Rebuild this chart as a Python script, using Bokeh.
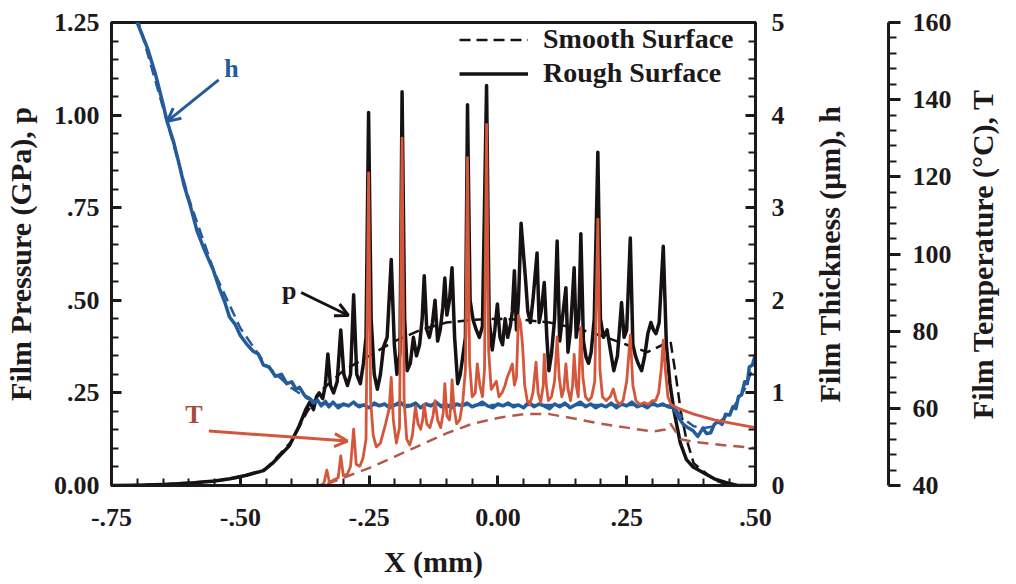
import numpy as np
from bokeh.plotting import figure
from bokeh.layouts import row
from bokeh.models import (Range1d, LinearAxis, FixedTicker, Legend, LegendItem,
                          Arrow, OpenHead, Label)
from bokeh.core.validation import silence
from bokeh.core.validation.warnings import MISSING_RENDERERS
from bokeh.embed import file_html
from bokeh.resources import INLINE

silence(MISSING_RENDERERS, True)

# ---------------- data ----------------
X_TICKS = [-0.75, -0.5, -0.25, 0.0, 0.25, 0.5]
X_TICK_LABELS = ["-.75", "-.50", "-.25", "0.00", ".25", ".50"]
P_TICKS = [0.0, 0.25, 0.5, 0.75, 1.0, 1.25]
P_TICK_LABELS = ["0.00", ".25", ".50", ".75", "1.00", "1.25"]
H_TICKS = [0, 1, 2, 3, 4, 5]
T_TICKS = [40, 60, 80, 100, 120, 140, 160]

LEGEND_LABELS = ["Smooth Surface", "Rough Surface"]

# film pressure, rough surface (GPa)
P_ROUGH_X = [-0.75, -0.70, -0.65, -0.60, -0.55, -0.52, -0.49, -0.455, -0.436, -0.405,
             -0.386, -0.373, -0.365, -0.358, -0.352, -0.347, -0.340, -0.335, -0.330, -0.325, -0.319,
             -0.312, -0.305, -0.299, -0.292, -0.286, -0.280, -0.274, -0.267, -0.261, -0.256,
             -0.251, -0.246, -0.240, -0.234, -0.228, -0.222, -0.215, -0.207, -0.201, -0.196,
             -0.190, -0.186, -0.181, -0.176, -0.170, -0.164, -0.158, -0.152, -0.147, -0.143,
             -0.138, -0.133, -0.127, -0.122, -0.117, -0.112, -0.107, -0.103, -0.099, -0.094,
             -0.089, -0.084, -0.078, -0.073, -0.068, -0.063, -0.059, -0.054, -0.048, -0.042,
             -0.036, -0.030, -0.022, -0.017, -0.011, -0.006, -0.001, 0.004, 0.009, 0.014,
             0.019, 0.024, 0.028, 0.032, 0.036, 0.040, 0.045, 0.050, 0.054, 0.058,
             0.063, 0.068, 0.076, 0.080, 0.084, 0.090, 0.095, 0.099, 0.104, 0.110,
             0.115, 0.120, 0.125, 0.132, 0.136, 0.141, 0.148, 0.152, 0.157, 0.161,
             0.166, 0.171, 0.176, 0.181, 0.187, 0.194, 0.199, 0.205, 0.212, 0.219,
             0.225, 0.232, 0.240, 0.245, 0.250, 0.257, 0.262, 0.267, 0.272, 0.279,
             0.285, 0.291, 0.297, 0.302, 0.307, 0.313, 0.321, 0.327, 0.334, 0.342,
             0.354, 0.366, 0.379, 0.398, 0.420, 0.442, 0.465, 0.50]
P_ROUGH = [0.0, 0.001, 0.003, 0.006, 0.012, 0.018, 0.027, 0.04, 0.062, 0.107,
           0.16, 0.205, 0.225, 0.205, 0.24, 0.25, 0.235, 0.27, 0.355, 0.27, 0.25,
           0.28, 0.42, 0.30, 0.27, 0.30, 0.515, 0.30, 0.275, 0.33, 0.40,
           1.007, 0.45, 0.30, 0.26, 0.30, 0.374, 0.40, 0.61, 0.38, 0.30,
           0.36, 1.063, 0.45, 0.31, 0.33, 0.40, 0.35, 0.38, 0.45, 0.566,
           0.42, 0.40, 0.44, 0.50, 0.39, 0.42, 0.48, 0.56, 0.46, 0.50,
           0.588, 0.40, 0.275, 0.30, 0.35, 0.40, 1.028, 0.50, 0.446, 0.42,
           0.40, 0.43, 1.08, 0.45, 0.366, 0.42, 0.49, 0.40, 0.38, 0.45,
           0.40, 0.43, 0.47, 0.58, 0.42, 0.50, 0.708, 0.62, 0.55, 0.47,
           0.44, 0.50, 0.628, 0.44, 0.47, 0.548, 0.40, 0.31, 0.355, 0.45,
           0.66, 0.39, 0.45, 0.534, 0.36, 0.42, 0.588, 0.40, 0.45, 0.68,
           0.39, 0.347, 0.33, 0.36, 0.45, 0.90, 0.45, 0.40, 0.42, 0.36,
           0.31, 0.35, 0.494, 0.40, 0.42, 0.668, 0.38, 0.35, 0.33, 0.31,
           0.35, 0.41, 0.44, 0.42, 0.41, 0.44, 0.646, 0.38, 0.275, 0.20,
           0.115, 0.07, 0.05, 0.035, 0.018, 0.008, 0.0, 0.0]

# film pressure, smooth surface (GPa)
P_SMOOTH_X = [-0.75, -0.65, -0.55, -0.50, -0.45, -0.40, -0.37, -0.34, -0.30, -0.25,
              -0.20, -0.15, -0.10, -0.05, 0.0, 0.05, 0.10, 0.15, 0.20, 0.25,
              0.29, 0.32, 0.335, 0.345, 0.355, 0.365, 0.38, 0.42, 0.45, 0.50]
P_SMOOTH = [0.0, 0.003, 0.012, 0.022, 0.045, 0.12, 0.20, 0.26, 0.31, 0.35,
            0.39, 0.42, 0.44, 0.447, 0.45, 0.447, 0.44, 0.425, 0.405, 0.38,
            0.36, 0.38, 0.39, 0.30, 0.20, 0.13, 0.06, 0.015, 0.0, 0.0]

# film thickness, rough surface (um)
H_ROUGH_X = [-0.71, -0.70, -0.68, -0.665, -0.65, -0.642, -0.63, -0.62, -0.609, -0.597,
             -0.584, -0.57, -0.552, -0.54, -0.53, -0.521, -0.51, -0.50, -0.488, -0.475,
             -0.465, -0.455, -0.444, -0.432, -0.42, -0.41, -0.40, -0.392, -0.385, -0.375,
             -0.365, -0.358, -0.35, -0.343, -0.335, -0.328, -0.32, -0.31, -0.30, -0.29,
             -0.28, -0.27, -0.26, -0.25, -0.24, -0.23, -0.22, -0.21, -0.20, -0.19,
             -0.18, -0.17, -0.16, -0.15, -0.14, -0.13, -0.12, -0.11, -0.10, -0.09,
             -0.08, -0.07, -0.06, -0.05, -0.04, -0.03, -0.02, -0.01, 0.0, 0.01,
             0.02, 0.03, 0.04, 0.05, 0.06, 0.07, 0.08, 0.09, 0.10, 0.11,
             0.12, 0.13, 0.14, 0.15, 0.16, 0.17, 0.18, 0.19, 0.20, 0.21,
             0.22, 0.23, 0.24, 0.25, 0.26, 0.27, 0.28, 0.29, 0.30, 0.31,
             0.32, 0.33, 0.34, 0.35, 0.36, 0.37, 0.379, 0.388, 0.398, 0.405,
             0.413, 0.42, 0.427, 0.435, 0.442, 0.45, 0.456, 0.462, 0.467, 0.473,
             0.479, 0.484, 0.488, 0.494, 0.50]
H_ROUGH = [5.2, 5.0, 4.72, 4.45, 4.12, 3.93, 3.72, 3.5, 3.24, 3.02,
           2.75, 2.55, 2.32, 2.12, 1.98, 1.82, 1.74, 1.62, 1.53, 1.45,
           1.42, 1.30, 1.28, 1.18, 1.20, 1.10, 1.12, 1.04, 1.06, 0.97,
           0.94, 0.89, 0.92, 0.86, 0.91, 0.85, 0.90, 0.84, 0.88, 0.86,
           0.90, 0.85, 0.87, 0.84, 0.89, 0.86, 0.88, 0.84, 0.87, 0.90,
           0.85, 0.86, 0.89, 0.84, 0.88, 0.86, 0.90, 0.85, 0.87, 0.84,
           0.88, 0.86, 0.89, 0.85, 0.87, 0.90, 0.86, 0.84, 0.88, 0.86,
           0.89, 0.85, 0.87, 0.84, 0.90, 0.85, 0.88, 0.86, 0.83, 0.88,
           0.85, 0.89, 0.84, 0.87, 0.90, 0.85, 0.88, 0.84, 0.87, 0.85,
           0.89, 0.84, 0.88, 0.86, 0.90, 0.85, 0.87, 0.84, 0.89, 0.86,
           0.88, 0.85, 0.84, 0.74, 0.66, 0.62, 0.59, 0.53, 0.62, 0.56,
           0.57, 0.66, 0.69, 0.66, 0.77, 0.76, 0.85, 0.83, 0.96, 0.98,
           1.12, 1.10, 1.28, 1.30, 1.42]

# film thickness, smooth surface (um)
H_SMOOTH_X = [-0.71, -0.65, -0.60, -0.55, -0.50, -0.45, -0.40, -0.37, -0.34, -0.30,
              0.0, 0.30, 0.34, 0.36, 0.38, 0.40, 0.42, 0.45, 0.48, 0.50]
H_SMOOTH = [5.25, 4.08, 3.1, 2.3, 1.7, 1.3, 1.05, 0.94, 0.88, 0.87,
            0.87, 0.87, 0.86, 0.72, 0.64, 0.62, 0.64, 0.78, 1.05, 1.35]

# film temperature, rough surface (C)
T_ROUGH_X = [-0.75, -0.345, -0.338, -0.332, -0.327, -0.318, -0.310, -0.305, -0.300, -0.292,
             -0.286, -0.280, -0.275, -0.268, -0.262, -0.256, -0.251, -0.247, -0.242, -0.236,
             -0.228, -0.218, -0.211, -0.207, -0.203, -0.197, -0.191, -0.186, -0.182, -0.177,
             -0.171, -0.166, -0.160, -0.155, -0.150, -0.146, -0.143, -0.138, -0.132, -0.126,
             -0.122, -0.117, -0.111, -0.106, -0.103, -0.099, -0.094, -0.091, -0.089, -0.085,
             -0.080, -0.074, -0.068, -0.063, -0.059, -0.055, -0.050, -0.044, -0.040, -0.035,
             -0.030, -0.026, -0.022, -0.018, -0.013, -0.008, -0.003, 0.002, 0.008, 0.014,
             0.018, 0.024, 0.028, 0.032, 0.036, 0.040, 0.044, 0.048, 0.052, 0.057,
             0.062, 0.068, 0.074, 0.078, 0.083, 0.088, 0.090, 0.094, 0.098, 0.104,
             0.110, 0.115, 0.119, 0.124, 0.128, 0.132, 0.136, 0.141, 0.145, 0.148,
             0.152, 0.156, 0.161, 0.165, 0.170, 0.176, 0.182, 0.188, 0.194, 0.198,
             0.203, 0.210, 0.218, 0.224, 0.230, 0.236, 0.243, 0.250, 0.257, 0.262,
             0.268, 0.275, 0.284, 0.292, 0.300, 0.306, 0.312, 0.317, 0.321, 0.325,
             0.330, 0.336, 0.350, 0.380, 0.420, 0.460, 0.500]
T_ROUGH = [40, 40, 40.5, 44, 40.8, 41.5, 42, 47.7, 42.5, 43,
           45, 54.6, 45.5, 45, 47, 52, 121, 62, 53, 50,
           51, 56, 60, 68, 57, 51, 55, 130, 62, 52,
           50.5, 53, 60.5, 56, 54.6, 57, 61, 56, 55, 58,
           62, 57, 55, 59, 66.4, 58, 57, 61, 67.4, 60,
           56, 57, 62, 70, 125, 72, 63, 64, 71.5, 66,
           63, 70, 133.6, 75, 64.9, 66, 67, 63, 64, 66,
           68, 70, 71.5, 66, 68, 84, 82, 76, 66, 62,
           61, 64, 72, 64, 61.5, 66, 74, 66, 62, 63,
           67, 78.5, 68, 63, 65, 71.5, 65, 62, 66, 74,
           66, 63, 81, 68, 63, 62, 63, 67, 109, 70,
           63, 62, 63, 65, 62, 61, 62, 67, 79, 66,
           62, 61, 61.5, 61, 62, 62, 64, 70, 77.7, 70,
           63, 61, 60, 58.5, 57, 56, 55]

# film temperature, smooth surface (C)
T_SMOOTH_X = [-0.75, -0.34, -0.30, -0.25, -0.20, -0.15, -0.10, -0.05, 0.0, 0.05,
              0.10, 0.15, 0.20, 0.25, 0.30, 0.325, 0.335, 0.355, 0.38, 0.45, 0.50]
T_SMOOTH = [40, 40, 42, 44.5, 47.5, 50.5, 53.5, 56, 57.5, 58.5,
            58.5, 57.3, 56, 55, 54, 54.5, 56, 52, 51.3, 50.3, 49.7]

# annotation arrows (x_start, p_start, x_end, p_end) and their letters
ARROW_H = (-0.542, 1.095, -0.642, 0.983)
ARROW_P = (-0.382, 0.521, -0.290, 0.459)
ARROW_T = (-0.561, 0.147, -0.292, 0.120)
TEXT_H = (-0.517, 1.125, "h")
TEXT_P = (-0.405, 0.527, "p")
TEXT_T = (-0.590, 0.193, "T")

H_TITLE = "Film Thickness (\u03bcm), h"
T_TITLE = "Film Temperature (\u00b0C), T"

# ---------------- style ----------------
FONT = "Liberation Serif"
INK = "#1d191a"
BLACK = "#161213"
BLUE = "#245b9a"
RED = "#d4573b"
RED_DASH = "#b4584a"
T_TEXT = "#a84a3b"
H_TOTAL = 580
B_TOP = 22
B_BOTTOM = 90


def style_axis(ax, tick_in=True):
    ax.axis_line_color = INK
    ax.axis_line_width = 3
    ax.major_tick_line_color = INK
    ax.minor_tick_line_color = INK
    ax.major_tick_line_width = 3
    ax.minor_tick_line_width = 2
    if tick_in:
        ax.major_tick_in = 10
        ax.major_tick_out = 0
        ax.minor_tick_in = 7
        ax.minor_tick_out = 0
    else:
        ax.major_tick_in = 0
        ax.major_tick_out = 12
        ax.minor_tick_in = 0
        ax.minor_tick_out = 8
    ax.major_label_text_font = FONT
    ax.major_label_text_font_style = "bold"
    ax.major_label_text_font_size = "26px"
    ax.major_label_text_color = INK
    ax.axis_label_text_font = FONT
    ax.axis_label_text_font_style = "bold"
    ax.axis_label_text_font_size = "30px"
    ax.axis_label_text_color = INK


def title_only_axis(ax, text, standoff):
    # an axis that shows only its (left-side, bottom-to-top) title
    ax.ticker = FixedTicker(ticks=[])
    ax.axis_line_color = None
    ax.major_tick_line_color = None
    ax.minor_tick_line_color = None
    ax.major_label_standoff = 0
    ax.major_tick_in = 0
    ax.major_tick_out = 0
    ax.minor_tick_in = 0
    ax.minor_tick_out = 0
    ax.axis_label = text
    ax.axis_label_standoff = standoff
    ax.axis_label_text_font = FONT
    ax.axis_label_text_font_style = "bold"
    ax.axis_label_text_font_size = "30px"
    ax.axis_label_text_color = INK


def bare(fig):
    fig.xgrid.visible = False
    fig.ygrid.visible = False
    fig.outline_line_color = None
    fig.background_fill_color = "white"
    fig.border_fill_color = "white"


# ---------------- main plot ----------------
p = figure(width=800, height=H_TOTAL, x_range=Range1d(-0.75, 0.5), y_range=Range1d(0, 1.25),
           output_backend="svg", toolbar_location=None,
           min_border_left=106, min_border_right=45, min_border_top=B_TOP, min_border_bottom=B_BOTTOM)
p.extra_y_ranges = {"h": Range1d(0, 5), "T": Range1d(40, 160)}
bare(p)
p.outline_line_color = INK
p.outline_line_width = 3

xa = p.xaxis[0]
style_axis(xa)
xa.ticker = FixedTicker(ticks=X_TICKS, minor_ticks=np.round(np.arange(-0.75, 0.5001, 0.05), 3).tolist())
xa.major_label_overrides = dict(zip(X_TICKS, X_TICK_LABELS))
xa.axis_label = "X (mm)"
xa.major_label_standoff = 23
xa.axis_label_standoff = 16

ya = p.yaxis[0]
style_axis(ya)
ya.ticker = FixedTicker(ticks=P_TICKS, minor_ticks=np.round(np.arange(0, 1.2501, 0.05), 3).tolist())
ya.major_label_overrides = dict(zip(P_TICKS, P_TICK_LABELS))
ya.axis_label = "Film Pressure (GPa), p"
ya.major_label_standoff = 12
ya.axis_label_standoff = 14

ha = LinearAxis(y_range_name="h")
style_axis(ha)
ha.ticker = FixedTicker(ticks=H_TICKS, minor_ticks=np.round(np.arange(0, 5.001, 0.2), 3).tolist())
ha.major_label_standoff = 16
p.add_layout(ha, "right")

# ---- curves ----
r_ps = p.line(P_SMOOTH_X, P_SMOOTH, line_color=BLACK, line_width=2.5, line_dash="11 6")
r_pr = p.line(P_ROUGH_X, P_ROUGH, line_color=BLACK, line_width=3.5, line_join="round")
p.line(H_SMOOTH_X, H_SMOOTH, y_range_name="h", line_color=BLUE, line_width=2.5, line_dash="11 6")
p.line(H_ROUGH_X, H_ROUGH, y_range_name="h", line_color=BLUE, line_width=3.5, line_join="round")
p.line(T_SMOOTH_X, T_SMOOTH, y_range_name="T", line_color=RED_DASH, line_width=2.5, line_dash="11 7")
p.line(T_ROUGH_X, T_ROUGH, y_range_name="T", line_color=RED, line_width=2.8, line_join="round")

# ---- annotations ----
for (xs, ys, xe, ye), col in ((ARROW_H, BLUE), (ARROW_P, BLACK), (ARROW_T, RED)):
    p.add_layout(Arrow(x_start=xs, y_start=ys, x_end=xe, y_end=ye, line_color=col, line_width=3,
                       end=OpenHead(size=13, line_color=col, line_width=3)))
for (tx, ty, tt), col in ((TEXT_H, BLUE), (TEXT_P, INK), (TEXT_T, T_TEXT)):
    p.add_layout(Label(x=tx, y=ty, text=tt, text_color=col, text_font=FONT, text_font_style="bold",
                       text_font_size="26px", text_align="center", text_baseline="middle"))

legend = Legend(items=[LegendItem(label=LEGEND_LABELS[0], renderers=[r_ps]),
                       LegendItem(label=LEGEND_LABELS[1], renderers=[r_pr])],
                location=(348, 396), orientation="vertical", border_line_color=None,
                background_fill_alpha=0, label_text_font=FONT, label_text_font_style="bold",
                label_text_font_size="28px", label_text_color=INK, glyph_width=69, glyph_height=29,
                label_height=29, spacing=2, padding=4, label_standoff=15, margin=0)
p.add_layout(legend)

# ---------------- thickness title + temperature scale ----------------
pT = figure(width=162, height=H_TOTAL, x_range=Range1d(0, 1), y_range=Range1d(40, 160),
            x_axis_location=None, y_axis_location="right",
            output_backend="svg", toolbar_location=None,
            min_border_left=51, min_border_right=74, min_border_top=B_TOP, min_border_bottom=B_BOTTOM)
bare(pT)
ta = pT.yaxis[0]
style_axis(ta, tick_in=False)
ta.ticker = FixedTicker(ticks=T_TICKS, minor_ticks=list(range(40, 161, 4)))
ta.major_label_standoff = 12
hl = LinearAxis()
title_only_axis(hl, H_TITLE, 6)
pT.add_layout(hl, "left")

# ---------------- temperature title ----------------
pL = figure(width=38, height=H_TOTAL, x_range=Range1d(0, 1), y_range=Range1d(0, 1),
            x_axis_location=None, y_axis_location="left",
            output_backend="svg", toolbar_location=None,
            min_border_left=36, min_border_right=0, min_border_top=B_TOP, min_border_bottom=B_BOTTOM)
bare(pL)
title_only_axis(pL.yaxis[0], T_TITLE, 0)

layout = row(p, pT, pL, spacing=0)
open("out.html", "w").write(file_html(layout, INLINE))
